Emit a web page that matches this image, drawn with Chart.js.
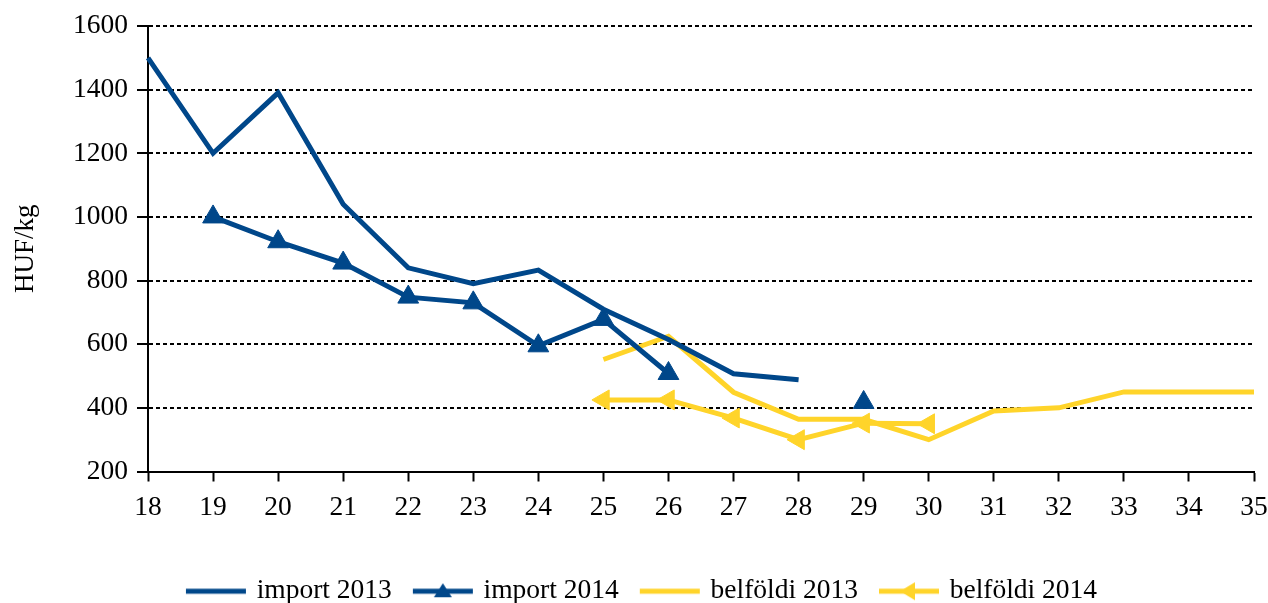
<!DOCTYPE html>
<html>
<head>
<meta charset="utf-8">
<script src="https://cdn.jsdelivr.net/npm/chart.js@4/dist/chart.umd.min.js"></script>
<style>
  html, body { margin: 0; padding: 0; background: #fff; }
  #wrap { width: 1268px; height: 603px; }
</style>
</head>
<body>
<div id="wrap"><canvas id="chart"></canvas></div>
<script>
// hét (week numbers)
var weeks = [18, 19, 20, 21, 22, 23, 24, 25, 26, 27, 28, 29, 30, 31, 32, 33, 34, 35];

// HUF/kg
var import2013   = [1500, 1200, 1390, 1040, 840, 790, 833, 710, 615, 507, 488, null, null, null, null, null, null, null];
var import2014   = [null, 1000, 922, 855, 748, 730, 595, 678, 508, null, null, 417, null, null, null, null, null, null];
var belfoldi2013 = [null, null, null, null, null, null, null, 552, 625, 449, 364, 364, 300, 390, 400, 450, 450, 450];
var belfoldi2014 = [null, null, null, null, null, null, null, 425, 425, 368, 300, 352, 350, null, null, null, null, null];

var yTicks = [200, 400, 600, 800, 1000, 1200, 1400, 1600];

var BLUE = '#00478a';
var YELLOW = '#ffd42a';
var FONT = "'Liberation Serif', 'Times New Roman', serif";

// legend swatch: line + optional marker
function swatch(color, marker) {
  var c = document.createElement('canvas');
  c.width = 62; c.height = 24;
  var ctx = c.getContext('2d');
  ctx.strokeStyle = color;
  ctx.lineWidth = 5;
  ctx.beginPath();
  ctx.moveTo(1, 12); ctx.lineTo(61, 12);
  ctx.stroke();
  if (marker) {
    ctx.fillStyle = color;
    ctx.beginPath();
    if (marker == 'up') {
      ctx.moveTo(31, 4); ctx.lineTo(40, 18); ctx.lineTo(22, 18);
    } else {
      ctx.moveTo(22, 12); ctx.lineTo(37, 3); ctx.lineTo(37, 21);
    }
    ctx.closePath();
    ctx.fill();
  }
  return c;
}

var swatches = [swatch(BLUE), swatch(BLUE, 'up'), swatch(YELLOW), swatch(YELLOW, 'left')];

// nudge legend a bit to the right, like the original
var legendShift = {
  id: 'legendShift',
  afterLayout: function(ch) {
    ch.legend.left += 16;
    ch.legend.right += 16;
  }
};

Chart.defaults.font.family = FONT;
Chart.defaults.color = '#000';

var chart = new Chart(document.getElementById('chart'), {
  type: 'line',
  data: {
    labels: weeks,
    datasets: [{
      label: 'import 2013',
      data: import2013,
      borderColor: BLUE,
      backgroundColor: BLUE,
      borderWidth: 5,
      pointRadius: 0,
      pointHoverRadius: 0
    }, {
      label: 'import 2014',
      data: import2014,
      borderColor: BLUE,
      backgroundColor: BLUE,
      borderWidth: 5,
      pointStyle: 'triangle',
      pointRadius: 12,
      pointBorderWidth: 1
    }, {
      label: 'belföldi 2013',
      data: belfoldi2013,
      borderColor: YELLOW,
      backgroundColor: YELLOW,
      borderWidth: 5,
      pointRadius: 0,
      pointHoverRadius: 0
    }, {
      label: 'belföldi 2014',
      data: belfoldi2014,
      borderColor: YELLOW,
      backgroundColor: YELLOW,
      borderWidth: 5,
      pointStyle: 'triangle',
      pointRotation: -90,
      pointRadius: 11.5,
      pointBorderWidth: 1
    }]
  },
  options: {
    responsive: true,
    maintainAspectRatio: false,
    animation: false,
    spanGaps: false,
    layout: { padding: { top: 26, right: 14, left: 0, bottom: -12 } },
    plugins: {
      tooltip: { enabled: false },
      legend: {
        position: 'bottom',
        labels: {
          font: { size: 27.5, family: FONT },
          color: '#000',
          usePointStyle: true,
          pointStyleWidth: 54,
          boxHeight: 24,
          padding: 24,
          generateLabels: function(ch) {
            return ch.data.datasets.map(function(ds, i) {
              return {
                text: ds.label,
                pointStyle: swatches[i],
                fillStyle: ds.borderColor,
                strokeStyle: ds.borderColor,
                lineWidth: 0,
                hidden: false,
                datasetIndex: i
              };
            });
          }
        }
      }
    },
    scales: {
      x: {
        type: 'category',
        offset: false,
        grid: {
          drawOnChartArea: false,
          drawTicks: true,
          tickLength: 10,
          tickColor: '#000',
          tickWidth: 2
        },
        border: { display: true, color: '#000', width: 2 },
        ticks: {
          padding: 10,
          autoSkip: false,
          maxRotation: 0,
          font: { size: 27.5, family: FONT },
          color: '#000'
        },
        afterFit: function(scale) {
          scale.height = 82;
          scale.paddingLeft = 0;
          scale.paddingRight = 14;
        }
      },
      y: {
        min: 200,
        max: 1600,
        afterBuildTicks: function(scale) {
          scale.ticks = yTicks.map(function(v) { return { value: v }; });
        },
        grid: {
          color: '#000',
          lineWidth: 2,
          drawTicks: true,
          tickLength: 11,
          tickColor: '#000',
          tickWidth: 2,
          tickBorderDash: []
        },
        border: { display: true, color: '#000', width: 2, dash: [4, 3] },
        ticks: {
          padding: 9,
          font: { size: 27.5, family: FONT },
          color: '#000',
          callback: function(v) { return String(v); }
        },
        title: {
          display: true,
          text: 'HUF/kg',
          font: { size: 27, family: FONT },
          color: '#000',
          padding: { top: 10, bottom: 0 }
        },
        afterFit: function(scale) { scale.width = 148; }
      }
    }
  },
  plugins: [legendShift]
});
</script>
</body>
</html>
